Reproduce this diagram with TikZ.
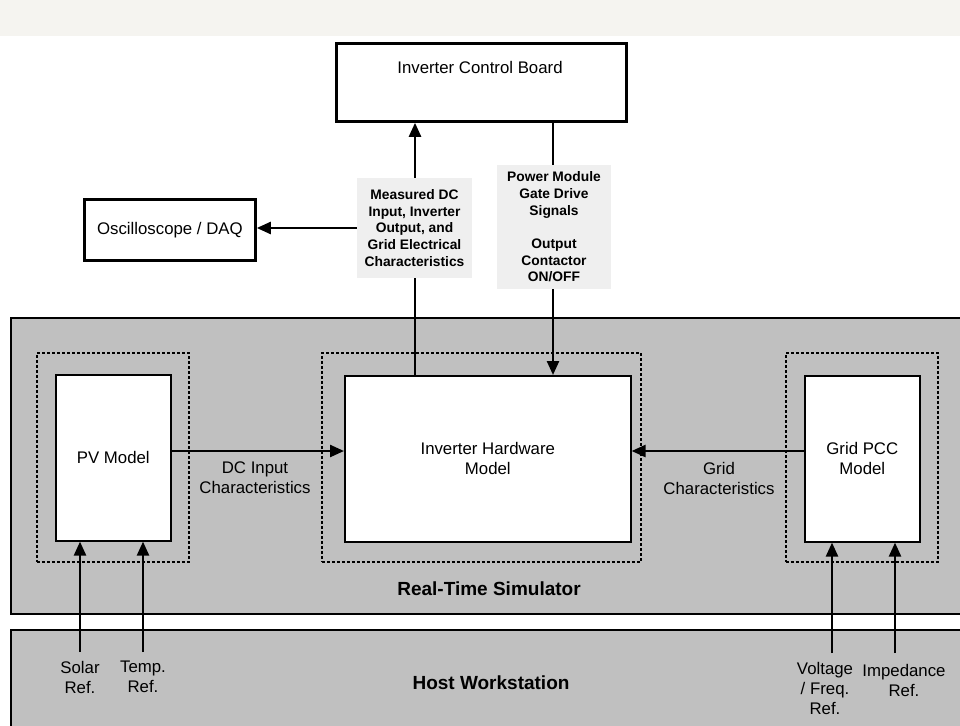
\documentclass[tikz,border=0pt]{standalone}
\usepackage{fontspec}
\setmainfont{Liberation Sans}
\usetikzlibrary{arrows.meta}
\definecolor{simgray}{HTML}{C0C0C0}
\definecolor{labgray}{HTML}{EFEFEF}
\definecolor{band}{HTML}{F5F4F0}
\tikzset{
  thickbox/.style={draw, line width=2.8pt, fill=white, inner sep=0pt},
  innerbox/.style={draw, line width=1.6pt, fill=white, inner sep=0pt},
  dotbox/.style={draw, line width=1.9pt, dash pattern=on 2.6pt off 2.4pt, inner sep=0pt},
  panel/.style={draw, line width=1.6pt, fill=simgray},
  arr/.style={line width=2.4pt, -{Triangle[length=14pt,width=12pt]}},
  normtxt/.style={font=\fontsize{16.8pt}{20pt}\selectfont, align=center, inner sep=0pt},
  boldtxt/.style={font=\fontsize{19pt}{22pt}\selectfont\bfseries, align=center, inner sep=0pt},
  labbox/.style={fill=labgray, font=\fontsize{13.8pt}{16.7pt}\selectfont\bfseries, align=center, inner sep=0pt},
}
\begin{document}
\begin{tikzpicture}[x=1pt,y=-1pt]
\useasboundingbox (0,0) rectangle (960,725);
% top band
\fill[band] (0,0) rectangle (960,36);
% panels
\draw[panel] (980,318) -- (11,318) -- (11,614) -- (980,614);
\draw[panel] (980,630) -- (11,630) -- (11,740) -- (980,740);
\node[boldtxt] (simt) at (489,589) {Real-Time Simulator};
\node[boldtxt] (hostt) at (491,683) {Host Workstation};
% dotted boxes
\node[dotbox, minimum width=152, minimum height=209, anchor=north west] (pvd) at (36,352) {};
\node[dotbox, minimum width=319, minimum height=209, anchor=north west] (invd) at (321,352) {};
\node[dotbox, minimum width=152, minimum height=209, anchor=north west] (gridd) at (785,352) {};
% inner boxes
\node[innerbox, minimum width=115, minimum height=166, anchor=north west, normtxt] (pv) at (55,374) {PV Model};
\node[innerbox, minimum width=286, minimum height=166, anchor=north west, normtxt] (inv) at (344,375) {Inverter Hardware\\Model};
\node[innerbox, minimum width=115, minimum height=166, anchor=north west, normtxt] (grid) at (804,375) {Grid PCC\\Model};
% top boxes
\node[thickbox, minimum width=290, minimum height=78, anchor=north west] (board) at (335,42) {};
\node[normtxt] (boardt) at (480,67) {Inverter Control Board};
\node[thickbox, minimum width=171, minimum height=61, anchor=north west, normtxt] (osc) at (83,198) {Oscilloscope / DAQ};
% vertical connectors
\coordinate (c1) at (415,0);
\coordinate (c2) at (553,0);
\draw[arr] (inv.north -| c1) -- (board.south -| c1);
\draw[arr] (board.south -| c2) -- (inv.north -| c2);
% label boxes
\node[labbox, minimum width=115, minimum height=100] (lab1) at (414.5,228) {Measured DC\\Input, Inverter\\Output, and\\Grid Electrical\\Characteristics};
\node[labbox, minimum width=114, minimum height=124] (lab2) at (554,227) {Power Module\\Gate Drive\\Signals\\[16.7pt]Output\\Contactor\\ON/OFF};
\draw[arr] (lab1.west) -- (osc.east |- lab1.west);
% horizontal arrows
\coordinate (h) at (0,451);
\draw[arr] (pv.east |- h) -- (inv.west |- h);
\draw[arr] (grid.west |- h) -- (inv.east |- h);
\node[normtxt] (dcl) at (255,478) {DC Input\\Characteristics};
\node[normtxt] (gcl) at (719,478) {Grid\\Characteristics};
% host inputs
\coordinate (s1) at (80,652);
\coordinate (s2) at (143,652);
\coordinate (s3) at (832,653);
\coordinate (s4) at (895,653);
\draw[arr] (s1) -- (pv.south -| s1);
\draw[arr] (s2) -- (pv.south -| s2);
\draw[arr] (s3) -- (grid.south -| s3);
\draw[arr] (s4) -- (grid.south -| s4);
\node[normtxt] (t1) at (80,677) {Solar\\Ref.};
\node[normtxt] (t2) at (143,677) {Temp.\\Ref.};
\node[normtxt] (t3) at (825,688) {Voltage\\/ Freq.\\Ref.};
\node[normtxt] (t4) at (904,680) {Impedance\\Ref.};
\end{tikzpicture}
\end{document}
